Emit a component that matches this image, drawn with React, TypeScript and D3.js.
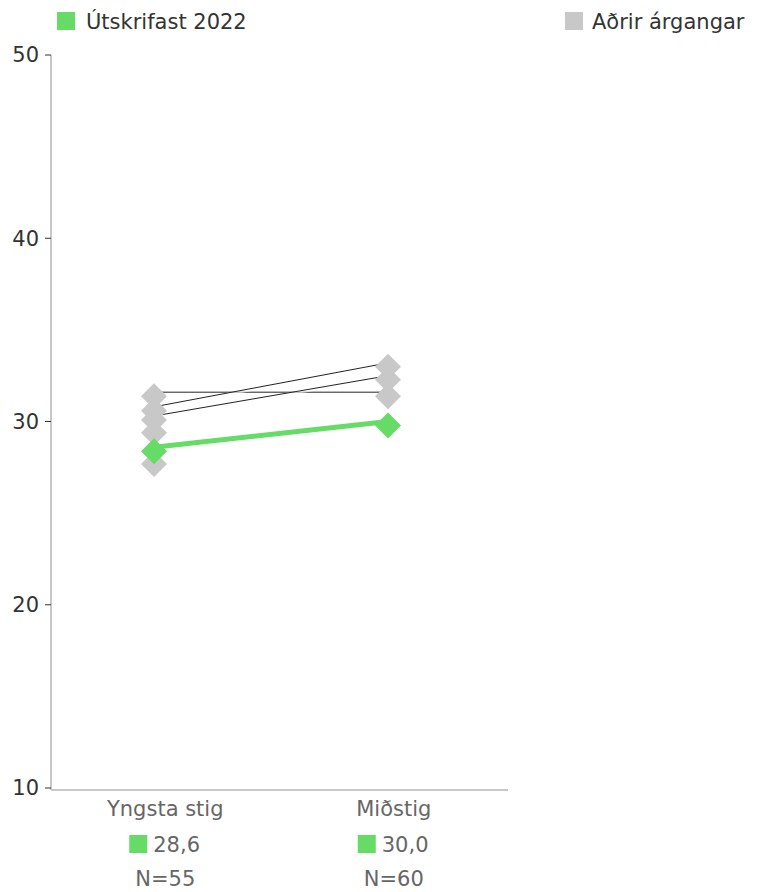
import React from "react";
import * as d3 from "d3";

const categories = ["Yngsta stig", "Miðstig"];
const mainSeries = [28.6, 30.0];
const mainLabels = ["28,6", "30,0"];
const nLabels = ["N=55", "N=60"];
const otherCohorts: (number | null)[][] = [
  [31.6, 31.6],
  [30.8, 33.2],
  [30.3, 32.5],
  [29.6, null],
  [27.9, null],
];
const yTicks = [10, 20, 30, 40, 50];
const legendMain = "Útskrifast 2022";
const legendOther = "Aðrir árgangar";

const W = 757;
const H = 892;
const GREEN = "#66dc66";
const GRAY = "#c8c8c8";
const FONT = "'DejaVu Sans', sans-serif";

export default function App() {
  const y = d3.scaleLinear().domain([10, 50]).range([788, 55]);
  const xBand = d3.scaleBand<string>().domain(categories).range([51, 508]);
  const xPt = d3.scalePoint<string>().domain(categories).range([154, 388]);
  const line = d3
    .line<[string, number | null]>()
    .defined((d) => d[1] != null)
    .x((d) => xPt(d[0])!)
    .y((d) => y(d[1] as number));
  const diamond = (cx: number, cy: number, r: number) =>
    `M${cx},${cy - r}L${cx + r},${cy}L${cx},${cy + r}L${cx - r},${cy}Z`;
  const dOff = 4;

  return (
    <svg width={W} height={H} style={{ position: "absolute", left: 0, top: 0, fontFamily: FONT }}>
      {/* legend */}
      <rect x={57} y={12} width={18} height={18} fill={GREEN} />
      <text x={86} y={29} fontSize={21} fill="#333">{legendMain}</text>
      <rect x={565} y={12} width={18} height={18} fill={GRAY} />
      <text x={592} y={29} fontSize={21} fill="#333">{legendOther}</text>

      {/* y axis */}
      <line x1={51} x2={51} y1={55} y2={790} stroke={GRAY} strokeWidth={2} />
      {yTicks.map((t) => (
        <g key={t}>
          <line x1={45} x2={51} y1={y(t)} y2={y(t)} stroke="#333" strokeWidth={1} />
          <text x={39} y={y(t)} dy="0.35em" textAnchor="end" fontSize={21} fill="#333">{t}</text>
        </g>
      ))}
      {/* x axis */}
      <line x1={51} x2={508} y1={790} y2={790} stroke={GRAY} strokeWidth={2} />
      {categories.map((c, i) => {
        const cx = xBand(c)! + xBand.bandwidth() / 2;
        return (
          <g key={c}>
            <text x={cx} y={816} textAnchor="middle" fontSize={21} fill="#666">{c}</text>
            <rect x={cx - 36} y={835} width={18} height={18} fill={GREEN} />
            <text x={cx - 12} y={852} fontSize={21} fill="#666">{mainLabels[i]}</text>
            <text x={cx} y={886} textAnchor="middle" fontSize={21} fill="#666">{nLabels[i]}</text>
          </g>
        );
      })}

      {/* other cohorts */}
      {otherCohorts.map((vals, k) => {
        const pts = categories.map((c, i) => [c, vals[i]] as [string, number | null]);
        return (
          <g key={k}>
            <path d={line(pts) || ""} fill="none" stroke="#fff" strokeWidth={3} strokeOpacity={0.6} transform="translate(0,1)" />
            <path d={line(pts) || ""} fill="none" stroke="#222" strokeWidth={1} />
          </g>
        );
      })}
      {otherCohorts.map((vals, k) =>
        categories.map((c, i) =>
          vals[i] == null ? null : (
            <path key={`${k}-${i}`} d={diamond(xPt(c)!, y(vals[i] as number) + dOff, 13)} fill={GRAY} />
          )
        )
      )}

      {/* main series */}
      <path
        d={line(categories.map((c, i) => [c, mainSeries[i]] as [string, number | null])) || ""}
        fill="none"
        stroke={GREEN}
        strokeWidth={5}
      />
      {categories.map((c, i) => (
        <path key={c} d={diamond(xPt(c)!, y(mainSeries[i]) + dOff, 13)} fill={GREEN} />
      ))}
    </svg>
  );
}
